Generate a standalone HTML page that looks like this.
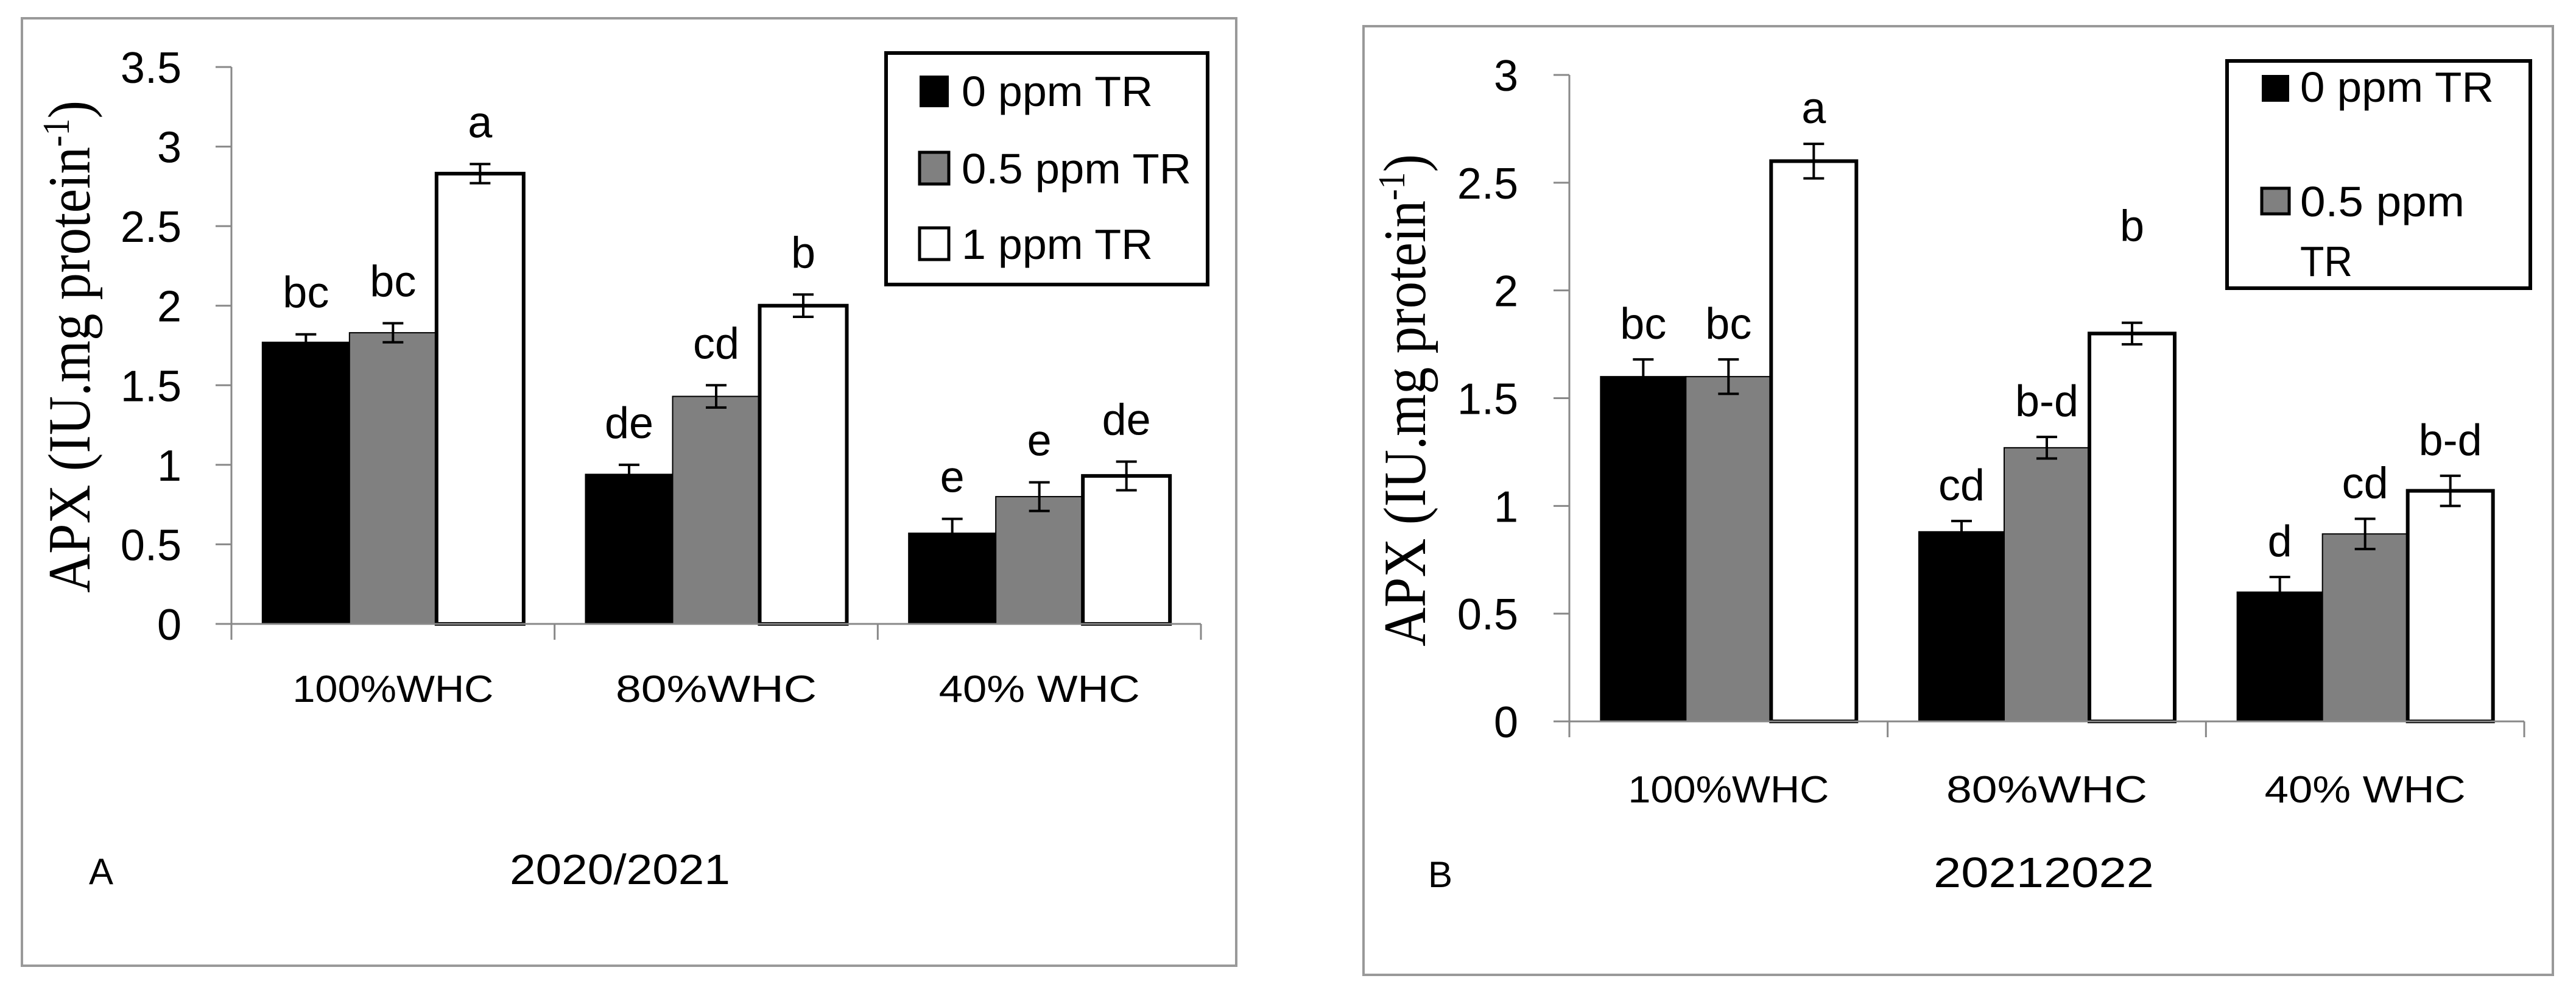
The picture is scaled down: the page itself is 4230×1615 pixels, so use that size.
<!DOCTYPE html>
<html><head><meta charset="utf-8"><style>
html,body{margin:0;padding:0;background:#fff;}
svg{display:block;}
text{font-family:"Liberation Sans",sans-serif;fill:#000;}
</style></head>
<body>
<svg id="fig" width="4230" height="1615" viewBox="0 0 4230 1615" xmlns="http://www.w3.org/2000/svg"></svg>
<script>
const categories = ["100%WHC", "80%WHC", "40% WHC"];
const seriesNames = ["0 ppm TR", "0.5 ppm TR", "1 ppm TR"];
// Chart A (2020/2021)
const aBlack = [1.77, 0.94, 0.57];
const aGray = [1.83, 1.43, 0.80];
const aWhite = [2.83, 2.00, 0.93];
const aErrBlack = [0.05, 0.06, 0.09];
const aErrGray = [0.06, 0.07, 0.09];
const aErrWhite = [0.06, 0.07, 0.09];
const aLetBlack = ["bc", "de", "e"];
const aLetGray = ["bc", "cd", "e"];
const aLetWhite = ["a", "b", "de"];
const aTicks = ["0", "0.5", "1", "1.5", "2", "2.5", "3", "3.5"];
// Chart B (2021/2022)
const bBlack = [1.60, 0.88, 0.60];
const bGray = [1.60, 1.27, 0.87];
const bWhite = [2.60, 1.80, 1.07];
const bErrBlack = [0.08, 0.05, 0.07];
const bErrGray = [0.08, 0.05, 0.07];
const bErrWhite = [0.08, 0.05, 0.07];
const bLetBlack = ["bc", "cd", "d"];
const bLetGray = ["bc", "b-d", "cd"];
const bLetWhite = ["a", "b", "b-d"];
const bTicks = ["0", "0.5", "1", "1.5", "2", "2.5", "3"];

const NS = "http://www.w3.org/2000/svg";
const svg = document.getElementById("fig");
function mk(tag, attrs, parent, txt){
  const e = document.createElementNS(NS, tag);
  for (const k in attrs) e.setAttribute(k, attrs[k]);
  if (txt !== undefined) e.textContent = txt;
  (parent || svg).appendChild(e);
  return e;
}
const fills = ["#000000", "#808080", "#ffffff"];

function drawChart(cfg){
  const g = mk("g", {});
  
  
  const fr = mk("rect", {x:cfg.fx, y:cfg.fy, width:cfg.fw, height:cfg.fh, fill:"none", stroke:"#999", "stroke-width":4}, g);
  
  
  const ymax = cfg.ymax;
  const y = v => cfg.y0 - v / ymax * (cfg.y0 - cfg.yTop);
  const catW = (cfg.xEnd - cfg.x0) / categories.length;
  const barW = cfg.barW;
  const pad = (catW - 3 * barW) / 2;
  const bx = (ci, si) => cfg.x0 + ci * catW + pad + si * barW;
  const ya = mk("line", {x1:cfg.x0, y1:cfg.yTop, x2:cfg.x0, y2:cfg.y0, stroke:"#888", "stroke-width":3}, g);
  
  
  cfg.ticks.forEach((t) => {
    const v = parseFloat(t);
    mk("line", {x1:cfg.x0 - 26, y1:y(v), x2:cfg.x0, y2:y(v), stroke:"#888", "stroke-width":3}, g);
    const tl = mk("text", {x:cfg.tickX, y:y(v) + 26, "text-anchor":"end", "font-size":72}, g, t);
    
    
  });
  const vals = [cfg.black, cfg.gray, cfg.white];
  const errs = [cfg.eb, cfg.eg, cfg.ew];
  const lets = [cfg.lb, cfg.lg, cfg.lw];
  categories.forEach((c, ci) => {
    vals.forEach((arr, si) => {
      const v = arr[ci];
      const r = mk("rect", {x:bx(ci, si), y:y(v), width:barW, height:cfg.y0 - y(v), fill:fills[si], stroke:"#000", "stroke-width":si === 2 ? 6 : 2}, g);
      
      
      const cx = bx(ci, si) + barW / 2;
      const e = errs[si][ci];
      mk("line", {x1:cx, y1:y(v + e), x2:cx, y2:y(v - e), stroke:"#000", "stroke-width":4}, g);
      mk("line", {x1:cx - 17, y1:y(v + e), x2:cx + 17, y2:y(v + e), stroke:"#000", "stroke-width":4}, g);
      mk("line", {x1:cx - 17, y1:y(v - e), x2:cx + 17, y2:y(v - e), stroke:"#000", "stroke-width":4}, g);
      let ly = y(v + e) - cfg.labOff;
      if (cfg.extra && cfg.extra[si] && cfg.extra[si][ci]) ly -= cfg.extra[si][ci];
      const lt = mk("text", {x:cx, y:ly, "text-anchor":"middle", "font-size":72}, g, lets[si][ci]);
      
      
    });
    const ccx = cfg.x0 + ci * catW + catW / 2;
    const cl = mk("text", {x:ccx, y:cfg.catY, "text-anchor":"middle", "font-size":62, textLength:c.length > 7 ? 345 : 330, lengthAdjust:"spacingAndGlyphs"}, g, c);
    
    
  });
  const xa = mk("line", {x1:cfg.x0, y1:cfg.y0, x2:cfg.xEnd, y2:cfg.y0, stroke:"#888", "stroke-width":3}, g);
  
  
  for (let i = 0; i <= categories.length; i++) {
    const tx = cfg.x0 + i * catW;
    mk("line", {x1:tx, y1:cfg.y0, x2:tx, y2:cfg.y0 + 26, stroke:"#888", "stroke-width":3}, g);
  }
  const yt = mk("text", {x:0, y:0, transform:"translate(" + cfg.ytx + "," + cfg.yty + ") rotate(-90) scale(1,1.15)", "text-anchor":"middle", "font-size":86, style:"font-family:'Liberation Serif',serif", textLength:808, lengthAdjust:"spacingAndGlyphs"}, g);
  
  
  yt.appendChild(document.createTextNode("APX (IU.mg protein"));
  mk("tspan", {"baseline-shift":"super", "font-size":54}, yt, "-1");
  yt.appendChild(document.createTextNode(")"));
  const pl = mk("text", {x:cfg.plx, y:cfg.ply, "font-size":60}, g, cfg.panel);
  
  
  const yr = mk("text", {x:cfg.yrx, y:cfg.ply, "text-anchor":"middle", "font-size":70, textLength:362, lengthAdjust:"spacingAndGlyphs"}, g, cfg.year);
  
  
  const lg = mk("g", {}, g);
  
  
  mk("rect", {x:cfg.lx, y:cfg.ly, width:cfg.lw2, height:cfg.lh, fill:"#fff", stroke:"#000", "stroke-width":6}, lg);
  cfg.legend.forEach((en) => {
    const sw = mk("rect", {x:en.sx, y:en.sy, width:en.sw, height:en.sh, fill:fills[en.si], stroke:"#000", "stroke-width":en.si === 0 ? 0 : 5}, lg);
    
    
    en.lines.forEach((ln, k) => {
      const t = mk("text", {x:en.tx, y:en.ty + k * 98, "font-size":70, textLength:en.tl[k], lengthAdjust:"spacingAndGlyphs"}, lg, ln);
      
      
    });
  });
}

drawChart({name:"chart-a", fx:36, fy:30, fw:1994, fh:1555, x0:380, xEnd:1972, y0:1024, yTop:110, ymax:3.5,
  ticks:aTicks, tickX:298, barW:143, black:aBlack, gray:aGray, white:aWhite, eb:aErrBlack, eg:aErrGray, ew:aErrWhite,
  lb:aLetBlack, lg:aLetGray, lw:aLetWhite, labOff:44, catY:1152, ytx:147, yty:569,
  panel:"A", plx:146, ply:1451, yrx:1018, year:"2020/2021",
  lx:1455, ly:87, lw2:528, lh:380,
  legend:[
    {si:0, sx:1510, sy:124, sw:48, sh:52, tx:1579, ty:174, lines:["0 ppm TR"], tl:[314]},
    {si:1, sx:1510, sy:250, sw:48, sh:52, tx:1579, ty:301, lines:["0.5 ppm TR"], tl:[377]},
    {si:2, sx:1510, sy:374, sw:48, sh:52, tx:1579, ty:425, lines:["1 ppm TR"], tl:[314]}
  ]});

drawChart({name:"chart-b", fx:2239, fy:43, fw:1953, fh:1557, x0:2577, xEnd:4145, y0:1184, yTop:123, ymax:3,
  ticks:bTicks, tickX:2493, barW:140, black:bBlack, gray:bGray, white:bWhite, eb:bErrBlack, eg:bErrGray, ew:bErrWhite,
  lb:bLetBlack, lg:bLetGray, lw:bLetWhite, labOff:34, extra:[null, null, [0, 100, 0]], catY:1317, ytx:2340, yty:657,
  panel:"B", plx:2345, ply:1456, yrx:3356, year:"20212022",
  lx:3657, ly:100, lw2:498, lh:373,
  legend:[
    {si:0, sx:3714, sy:123, sw:45, sh:44, tx:3777, ty:167, lines:["0 ppm TR"], tl:[318]},
    {si:1, sx:3714, sy:309, sw:45, sh:42, tx:3777, ty:355, lines:["0.5 ppm", "TR"], tl:[270, 86]}
  ]});
</script>
</body></html>
